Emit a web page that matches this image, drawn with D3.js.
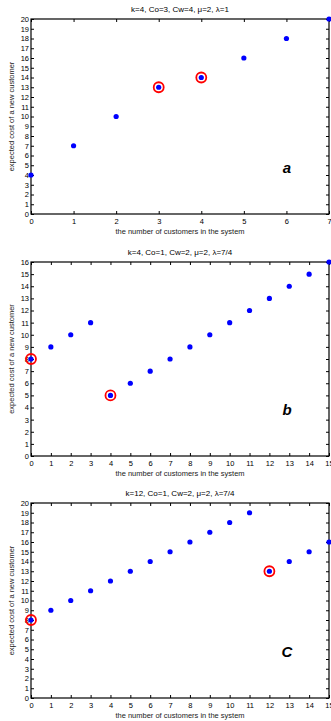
<!DOCTYPE html>
<html><head><meta charset="utf-8">
<script src="https://cdn.jsdelivr.net/npm/d3@7"></script>
<style>body{margin:0;background:#fff}svg{display:block}text{font-family:"Liberation Sans",Arial,sans-serif}</style>
</head><body>
<svg id="c" width="331" height="721"></svg>
<script>
const titles = ["k=4, Co=3, Cw=4, \u03bc=2, \u03bb=1", "k=4, Co=1, Cw=2, \u03bc=2, \u03bb=7/4", "k=12, Co=1, Cw=2, \u03bc=2, \u03bb=7/4"];
const letters = ["a", "b", "C"];
const xMax = [7, 15, 15];
const yMax = [20, 16, 20];
const valuesA = [4, 7, 10, 13, 14, 16, 18, 20];
const valuesB = [8, 9, 10, 11, 5, 6, 7, 8, 9, 10, 11, 12, 13, 14, 15, 16];
const valuesC = [8, 9, 10, 11, 12, 13, 14, 15, 16, 17, 18, 19, 13, 14, 15, 16];
const highlightA = [3, 4];
const highlightB = [0, 4];
const highlightC = [0, 12];
const xLabel = "the number of customers in the system";
const yLabel = "expected cost of a new customer";

const series = [valuesA, valuesB, valuesC];
const highlights = [highlightA, highlightB, highlightC];
const layout = [
  {top: 19, bottom: 214},
  {top: 262, bottom: 456},
  {top: 503, bottom: 698}
];
const L = 31, R = 329;
const svg = d3.select("#c");
const fmt = d3.format("d");

series.forEach((vals, i) => {
  const lay = layout[i];
  const x = d3.scaleLinear().domain([0, xMax[i]]).range([L, R]);
  const y = d3.scaleLinear().domain([0, yMax[i]]).range([lay.bottom, lay.top]);
  const g = svg.append("g");
  const xt = d3.range(0, xMax[i] + 1);
  const yt = d3.range(0, yMax[i] + 1);
  const tl = 3;
  const xb = g.append("g").attr("transform", `translate(0,${lay.bottom})`)
    .call(d3.axisBottom(x).tickValues(xt).tickFormat(fmt).tickSizeInner(-tl).tickSizeOuter(0).tickPadding(5));
  const xtp = g.append("g").attr("transform", `translate(0,${lay.top})`)
    .call(d3.axisTop(x).tickValues(xt).tickSizeInner(-tl).tickSizeOuter(0).tickFormat(""));
  const yl = g.append("g").attr("transform", `translate(${L},0)`)
    .call(d3.axisLeft(y).tickValues(yt).tickFormat(fmt).tickSizeInner(-tl).tickSizeOuter(0).tickPadding(2));
  const yr = g.append("g").attr("transform", `translate(${R},0)`)
    .call(d3.axisRight(y).tickValues(yt).tickSizeInner(-tl).tickSizeOuter(0).tickFormat(""));
  [xb, xtp, yl, yr].forEach(a => {
    a.select(".domain").remove();
    a.selectAll("line").attr("stroke", "#000").attr("stroke-width", 1);
    a.selectAll("text").attr("font-size", 7.5).attr("fill", "#000");
  });
  g.append("rect").attr("x", L).attr("y", lay.top).attr("width", R - L).attr("height", lay.bottom - lay.top)
    .attr("fill", "none").attr("stroke", "#000").attr("stroke-width", 1.2);
  g.append("text").attr("x", (L + R) / 2).attr("y", lay.top - 7).attr("text-anchor", "middle")
    .attr("font-size", 8).text(titles[i]);
  g.append("text").attr("x", (L + R) / 2).attr("y", lay.bottom + 20).attr("text-anchor", "middle")
    .attr("font-size", 7.5).attr("fill", "#222").text(xLabel);
  g.append("text").attr("transform", `translate(14,${(lay.top + lay.bottom) / 2}) rotate(-90)`)
    .attr("text-anchor", "middle").attr("font-size", 7.5).attr("fill", "#222").text(yLabel);
  g.selectAll("circle.p").data(vals).join("circle").attr("class", "p")
    .attr("cx", (d, j) => x(j)).attr("cy", d => y(d)).attr("r", 2.6).attr("fill", "#0000ff");
  g.selectAll("circle.h").data(highlights[i]).join("circle").attr("class", "h")
    .attr("cx", d => x(d)).attr("cy", d => y(vals[d])).attr("r", 5).attr("fill", "none")
    .attr("stroke", "#ff0000").attr("stroke-width", 1.8);
  g.append("text").attr("x", 287).attr("y", (lay.top + lay.bottom) / 2 + 56)
    .attr("text-anchor", "middle").attr("font-size", 15).attr("font-weight", "bold")
    .attr("font-style", "italic").text(letters[i]);
});
</script>
</body></html>
